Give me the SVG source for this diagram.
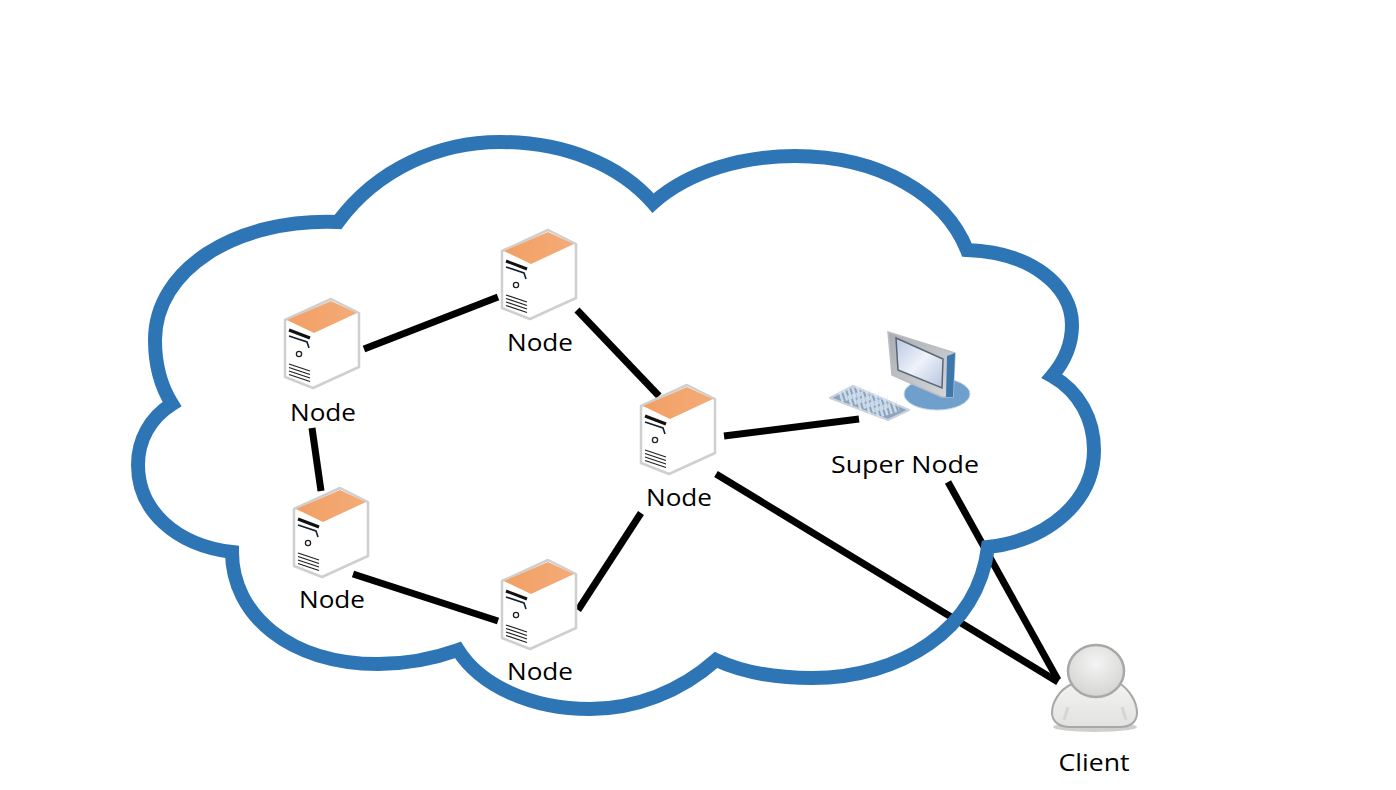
<svg xmlns="http://www.w3.org/2000/svg" width="1396" height="790" viewBox="0 0 1396 790">
<style>
.t{font-family:"Open Sans","DejaVu Sans",sans-serif;font-size:24px;fill:#000;text-anchor:middle}
.l{stroke:#000;stroke-width:7;fill:none}
</style>
<defs>
<linearGradient id="scr" x1="0" y1="0" x2="1" y2="1"><stop offset="0" stop-color="#b9c8e4"/><stop offset=".5" stop-color="#eef2fa"/><stop offset="1" stop-color="#b4c4e0"/></linearGradient>
<linearGradient id="frm" x1="0" y1="0" x2="1" y2="1"><stop offset="0" stop-color="#a9adb2"/><stop offset="1" stop-color="#d5d8db"/></linearGradient>
<radialGradient id="hd" cx=".5" cy=".35" r=".7"><stop offset="0" stop-color="#f4f4f4"/><stop offset="1" stop-color="#d2d2d0"/></radialGradient>
<linearGradient id="bd" x1="0" y1="0" x2="0" y2="1"><stop offset="0" stop-color="#f3f3f2"/><stop offset="1" stop-color="#e2e2e0"/></linearGradient>
<linearGradient id="top" x1="0" y1="0" x2="1" y2="0"><stop offset="0" stop-color="#f2a064"/><stop offset="1" stop-color="#f3ab78"/></linearGradient>
<g id="srv">
<path d="M0 22 46 1 74 15V69L28 90 0 79Z" fill="#fff" stroke="#cfcfcf" stroke-width="2.500" stroke-linejoin="round"/>
<path d="M2 22 46 3 72 15 29 35Z" fill="url(#top)"/>
<path d="M4 32 25 40" stroke="#111" stroke-width="3" fill="none"/>
<path d="M4 38 22 44 24 50" stroke="#123" stroke-width="1.600" fill="none"/>
<circle cx="14" cy="56" r="2.600" fill="#fff" stroke="#222" stroke-width="1.300"/>
<path d="M4 66 25 73M4 69.500 25 76.500M4 73 25 80M4 76.500 25 83.500" stroke="#222" stroke-width="1.300" fill="none"/>
</g>
</defs>
<rect width="1396" height="790" fill="#fff"/>
<g id="connectors">
<path class="l" d="M364 349 498 297"/>
<path class="l" d="M577 310 659 396"/>
<path class="l" d="M724 436 859 419"/>
<path class="l" d="M312 428 321 491"/>
<path class="l" d="M353 574 498 621"/>
<path class="l" d="M578 610 641 513"/>
<path class="l" d="M716 474 1058 682"/>
<path class="l" d="M948 482 1058 680"/>
</g>
<g id="cloud">
<path fill="none" stroke="#2e75b6" stroke-width="14" stroke-linejoin="miter" d="M338 222C378 168 440 142 500 142C565 142 620 165 653 203C690 170 745 156 795 156C880 156 945 195 967 250C1030 252 1072 285 1072 325C1072 345 1064 362 1052 376C1080 392 1094 420 1094 450C1094 500 1050 540 988 547C978 630 900 678 812 678C775 678 742 672 716 660C680 692 635 709 590 709C530 709 480 685 458 650C430 660 405 664 378 664C290 664 232 615 232 552C175 545 138 510 138 465C138 440 150 418 172 404C160 385 155 362 155 340C155 270 235 218 338 222Z"/>
</g>
<g id="node1"><use href="#srv" x="285" y="298"/><text class="t" x="323" y="421" textLength="66" lengthAdjust="spacingAndGlyphs">Node</text></g>
<g id="node2"><use href="#srv" x="502" y="229"/><text class="t" x="540" y="351" textLength="66" lengthAdjust="spacingAndGlyphs">Node</text></g>
<g id="node3"><use href="#srv" x="641" y="384"/><text class="t" x="679" y="506" textLength="66" lengthAdjust="spacingAndGlyphs">Node</text></g>
<g id="node4"><use href="#srv" x="294" y="487"/><text class="t" x="332" y="608" textLength="66" lengthAdjust="spacingAndGlyphs">Node</text></g>
<g id="node5"><use href="#srv" x="502" y="559"/><text class="t" x="540" y="680" textLength="66" lengthAdjust="spacingAndGlyphs">Node</text></g>
<g id="supernode">
<ellipse cx="937" cy="394" rx="33" ry="16" fill="#6f9fcc" stroke="#c5d5e6"/>
<path d="M888 332 955 353 953 397 942 397 892 375Z" fill="url(#frm)" stroke="#b9bec4" stroke-width="1.500"/>
<path d="M947 356 955 353 953 397 946 397Z" fill="#3d78ad"/>
<path d="M896 338 943 359 942 388 898 370Z" fill="url(#scr)" stroke="#5d6670" stroke-width="1.500"/>
<path d="M830 398 853 386 909 410 888 420Z" fill="#8da4ba" stroke="#c8d2dc" stroke-width="2" stroke-linejoin="round"/>
<path d="M840 397 862 390M849 401 871 394M858 405 880 398M867 409 889 402M876 413 898 406" stroke="#d7e5f3" stroke-width="11" stroke-dasharray="2.500 2" fill="none" opacity=".85"/>
<text class="t" x="905" y="473" textLength="148" lengthAdjust="spacingAndGlyphs">Super Node</text>
</g>
<g id="client">
<ellipse cx="1095" cy="727" rx="42" ry="5" fill="#a8a8a8" opacity=".55"/>
<path d="M1072 684C1058 690 1052 704 1052 713C1052 722 1060 727 1070 727H1120C1130 727 1137 722 1137 713C1137 702 1130 690 1118 682Z" fill="url(#bd)" stroke="#a8a8a6" stroke-width="2"/>
<path d="M1064 720 1068 707M1126 720 1122 707" stroke="#d6d6d4" stroke-width="3" fill="none"/>
<ellipse cx="1096" cy="671" rx="28" ry="26" fill="url(#hd)" stroke="#a8a8a6" stroke-width="2.500"/>
<text class="t" x="1094" y="771" textLength="71" lengthAdjust="spacingAndGlyphs">Client</text>
</g>
</svg>
